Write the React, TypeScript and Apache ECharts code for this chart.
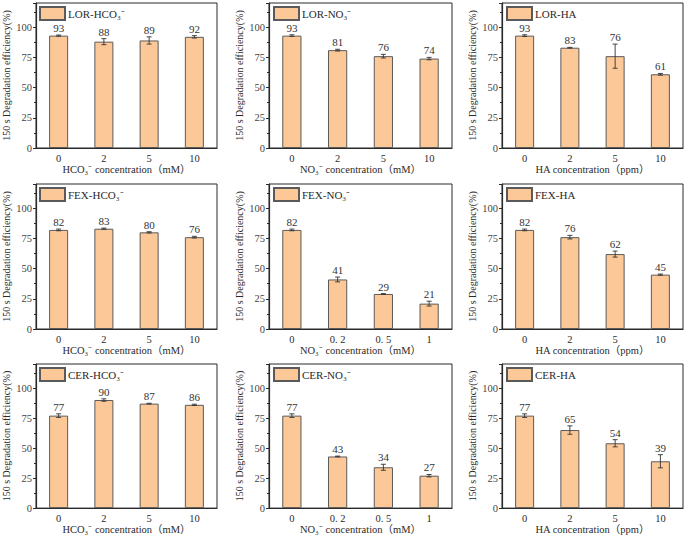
import React, { useEffect, useRef } from "react";
import * as echarts from "echarts";

// categories (x tick labels)
const catsConc = ["0", "2", "5", "10"];
const catsNO3Low = ["0", "0. 2", "0. 5", "1"];

// panel names
const panelNames = [
  "LOR-HCO₃⁻", "LOR-NO₃⁻", "LOR-HA",
  "FEX-HCO₃⁻", "FEX-NO₃⁻", "FEX-HA",
  "CER-HCO₃⁻", "CER-NO₃⁻", "CER-HA",
];

// axis titles
const xTitleHCO3 = "HCO₃⁻ concentration（mM）";
const xTitleNO3 = "NO₃⁻ concentration（mM）";
const xTitleHA = "HA concentration（ppm）";
const yTitle = "150 s Degradation efficiency(%)";

// values & errors
const lorHco3 = [93, 88, 89, 92];
const lorHco3Err = [0.5, 2.5, 3, 1];
const lorNo3 = [93, 81, 76, 74];
const lorNo3Err = [0.7, 0.7, 1.5, 1];
const lorHa = [93, 83, 76, 61];
const lorHaErr = [0.7, 0.3, 10, 0.7];
const fexHco3 = [82, 83, 80, 76];
const fexHco3Err = [0.7, 0.5, 0.5, 0.7];
const fexNo3 = [82, 41, 29, 21];
const fexNo3Err = [0.7, 2, 0.3, 2];
const fexHa = [82, 76, 62, 45];
const fexHaErr = [0.7, 1.5, 2.5, 0.5];
const cerHco3 = [77, 90, 87, 86];
const cerHco3Err = [1.5, 1, 0.3, 0.5];
const cerNo3 = [77, 43, 34, 27];
const cerNo3Err = [1.5, 0.3, 2.5, 1];
const cerHa = [77, 65, 54, 39];
const cerHaErr = [1.5, 3.5, 3, 5.5];

// y-axis
const yMin = 0;
const yMax = 120;
const yInterval = 25;

const panelValues = [lorHco3, lorNo3, lorHa, fexHco3, fexNo3, fexHa, cerHco3, cerNo3, cerHa];
const panelErrs = [lorHco3Err, lorNo3Err, lorHaErr, fexHco3Err, fexNo3Err, fexHaErr, cerHco3Err, cerNo3Err, cerHaErr];
const panelCats = [catsConc, catsConc, catsConc, catsConc, catsNO3Low, catsConc, catsConc, catsNO3Low, catsConc];
const panelXTitles = [xTitleHCO3, xTitleNO3, xTitleHA, xTitleHCO3, xTitleNO3, xTitleHA, xTitleHCO3, xTitleNO3, xTitleHA];

const FONT = "'Liberation Serif', 'Times New Roman', 'Noto Sans CJK SC', serif";
const BAR_FILL = "#FDC897";
const BAR_BORDER = "#5a5a5a";
const INK = "#2a2a2a";

const colLefts = [35, 269, 502];
const colWidths = [182, 183, 181];
const rowTops = [3, 184, 364];
const plotH = 145;

export default function App() {
  const ref = useRef<HTMLDivElement>(null);
  useEffect(() => {
    if (!ref.current) return;
    const chart = echarts.init(ref.current, undefined, { renderer: "svg" });
    const grids: any[] = [];
    const xAxes: any[] = [];
    const yAxes: any[] = [];
    const series: any[] = [];
    const legends: any[] = [];
    for (let i = 0; i < 9; i++) {
      const r = Math.floor(i / 3);
      const c = i % 3;
      const left = colLefts[c];
      const top = rowTops[r];
      grids.push({
        left, top, width: colWidths[c], height: plotH,
        show: true, borderColor: INK, borderWidth: 1, backgroundColor: "transparent",
      });
      xAxes.push({
        type: "category", gridIndex: i, data: panelCats[i],
        name: panelXTitles[i], nameLocation: "middle", nameGap: 16,
        nameTextStyle: { fontFamily: FONT, fontSize: 10.5, color: INK },
        axisLine: { lineStyle: { color: INK, width: 1.2 } },
        axisTick: { show: true, inside: true, alignWithLabel: true, length: 3, lineStyle: { color: INK } },
        axisLabel: { fontFamily: FONT, fontSize: 10.5, color: INK, margin: 5 },
      });
      yAxes.push({
        type: "value", gridIndex: i, min: yMin, max: yMax, interval: yInterval,
        name: yTitle, nameLocation: "middle", nameGap: 25, nameRotate: 90,
        nameTextStyle: { fontFamily: FONT, fontSize: 10, color: INK },
        axisLine: { show: true, lineStyle: { color: INK, width: 1.2 } },
        axisTick: { show: true, inside: false, length: 3, lineStyle: { color: INK } },
        minorTick: { show: true, splitNumber: 2, length: 2, lineStyle: { color: INK } },
        splitLine: { show: false },
        axisLabel: { fontFamily: FONT, fontSize: 10.5, color: "#444", margin: 4, showMaxLabel: false },
      });
      series.push({
        name: panelNames[i], type: "bar", xAxisIndex: i, yAxisIndex: i,
        data: panelValues[i], barWidth: "42%",
        itemStyle: { color: BAR_FILL, borderColor: BAR_BORDER, borderWidth: 1 },
      });
      const vals = panelValues[i];
      const errs = panelErrs[i];
      series.push({
        type: "custom", xAxisIndex: i, yAxisIndex: i, z: 5,
        data: vals.map((v, k) => [k, v - errs[k], v + errs[k], v]),
        renderItem: (params: any, api: any) => {
          const x = api.value(0);
          const lo = api.coord([x, api.value(1)]);
          const hi = api.coord([x, api.value(2)]);
          const hw = 2.5;
          const ls = { stroke: "#333", lineWidth: 0.9 };
          return {
            type: "group",
            children: [
              { type: "line", shape: { x1: lo[0], y1: lo[1], x2: hi[0], y2: hi[1] }, style: ls },
              { type: "line", shape: { x1: lo[0] - hw, y1: lo[1], x2: lo[0] + hw, y2: lo[1] }, style: ls },
              { type: "line", shape: { x1: hi[0] - hw, y1: hi[1], x2: hi[0] + hw, y2: hi[1] }, style: ls },
              {
                type: "text", x: hi[0], y: hi[1] - 1.5,
                style: {
                  text: String(api.value(3)), align: "center", verticalAlign: "bottom",
                  fontFamily: FONT, fontSize: 11, fill: "#333",
                },
              },
            ],
          };
        },
      });
      legends.push({
        data: [panelNames[i]], left: left + 4, top: top + 3, padding: 0,
        itemWidth: 25, itemHeight: 13, itemGap: 4, selectedMode: false,
        icon: "rect",
        textStyle: { fontFamily: FONT, fontSize: 11, color: INK, padding: [0, 0, 0, -2] },
      });
    }
    chart.setOption({
      animation: false,
      backgroundColor: "#fff",
      grid: grids, xAxis: xAxes, yAxis: yAxes, series, legend: legends,
    });
    return () => chart.dispose();
  }, []);
  return <div ref={ref} style={{ position: "fixed", left: 0, top: 0, width: 685, height: 536 }} />;
}
